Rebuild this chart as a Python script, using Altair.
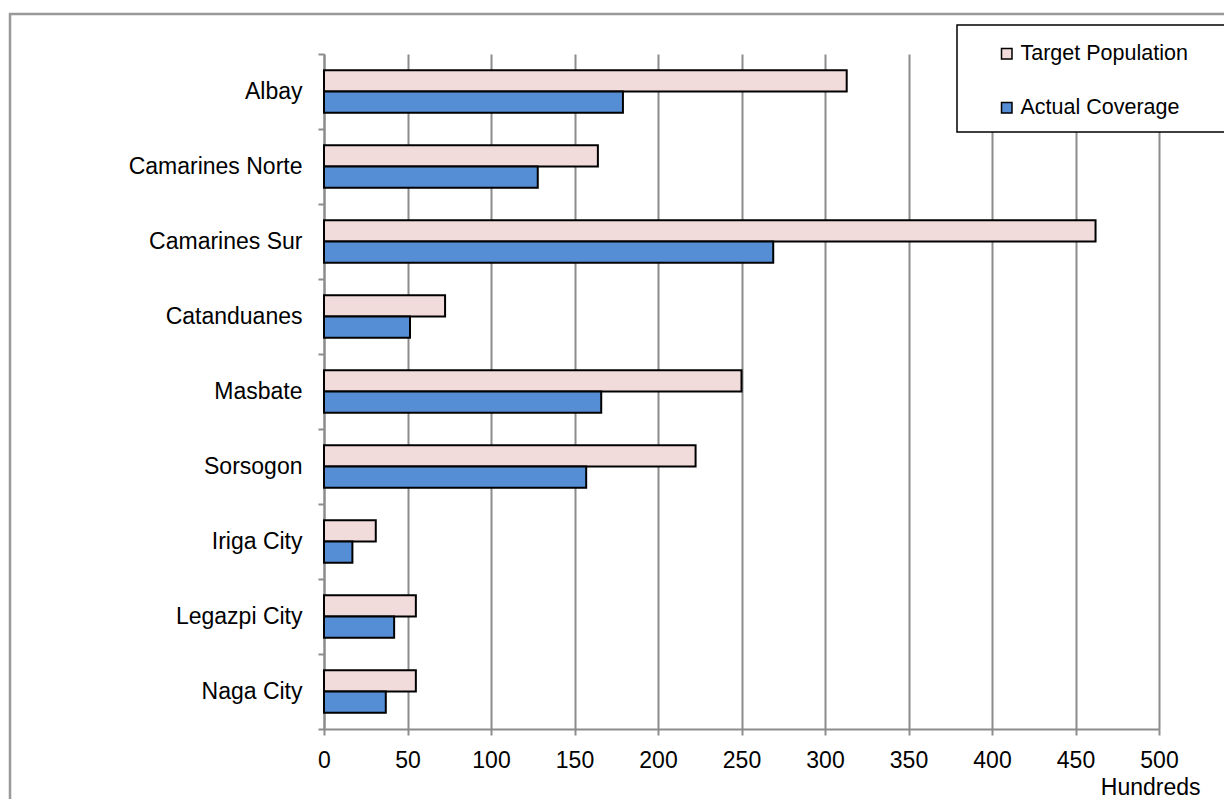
import altair as alt
import pandas as pd

categories = ["Albay", "Camarines Norte", "Camarines Sur", "Catanduanes", "Masbate",
              "Sorsogon", "Iriga City", "Legazpi City", "Naga City"]
series_names = ["Target Population", "Actual Coverage"]
target = [313, 164, 462, 72.5, 250, 222.5, 31, 55, 55]
actual = [179, 128, 269, 51.5, 166, 157, 17, 42, 37]
x_ticks = [0, 50, 100, 150, 200, 250, 300, 350, 400, 450, 500]
colors = ["#F2DCDB", "#558ED5"]

rows = []
for c, t, a in zip(categories, target, actual):
    rows.append({"Region": c, "Series": series_names[0], "Value": t})
    rows.append({"Region": c, "Series": series_names[1], "Value": a})
df = pd.DataFrame(rows)

FONT = "Liberation Sans"

bars = alt.Chart(df).mark_bar(stroke="black", strokeWidth=2).encode(
    y=alt.Y("Region:N", sort=categories,
            scale=alt.Scale(paddingInner=0, paddingOuter=0),
            axis=alt.Axis(title=None, tickBand="extent", tickSize=6, labelPadding=16,
                          labelFontSize=23, labelFont=FONT, labelColor="black",
                          domainColor="#8c8c8c", domainWidth=2, tickColor="#8c8c8c",
                          tickWidth=2, grid=False, labelLimit=400)),
    yOffset=alt.YOffset("Series:N", sort=series_names,
                        scale=alt.Scale(paddingInner=0, paddingOuter=0.76)),
    x=alt.X("Value:Q", scale=alt.Scale(domain=[0, 500], nice=False),
            axis=alt.Axis(values=x_ticks, title="Hundreds", tickSize=6, labelPadding=14,
                          labelFontSize=23, labelFont=FONT, labelColor="black",
                          labelFlush=False, domainColor="#8c8c8c", domainWidth=2,
                          tickColor="#8c8c8c", tickWidth=2, grid=True,
                          gridColor="#8c8c8c", gridWidth=2,
                          titleFontSize=23, titleFont=FONT, titleFontWeight="normal",
                          titleColor="black", titleAlign="right", titleAnchor="end",
                          titleX=876, titleY=65, titleBaseline="alphabetic")),
    color=alt.Color("Series:N", sort=series_names,
                    scale=alt.Scale(domain=series_names, range=colors),
                    legend=alt.Legend(orient="none", legendX=672, legendY=-11, title=None,
                                      symbolType="square", symbolSize=110,
                                      symbolStrokeColor="black", symbolStrokeWidth=1.5,
                                      labelFontSize=21.5, labelFont=FONT, labelColor="black",
                                      rowPadding=31, labelOffset=3, padding=0,
                                      labelLimit=400)),
)

one = alt.Data(values=[{}])
frame = alt.Chart(one).mark_rect(fill=None, stroke="#999999", strokeWidth=2.5).encode(
    x=alt.value(-314), x2=alt.value(1000), y=alt.value(-40), y2=alt.value(1000))
legend_box = alt.Chart(one).mark_rect(fill="white", stroke="black", strokeWidth=1.5).encode(
    x=alt.value(633), x2=alt.value(1000), y=alt.value(-29), y2=alt.value(78))

chart = alt.layer(frame, legend_box, bars).properties(
    width=835, height=675,
    autosize=alt.AutoSizeParams(type="none"),
    padding={"left": 316, "top": 46, "right": 65, "bottom": 70},
).configure_view(stroke=None)

chart.save("out.html", embed_options={"renderer": "svg", "actions": False})
